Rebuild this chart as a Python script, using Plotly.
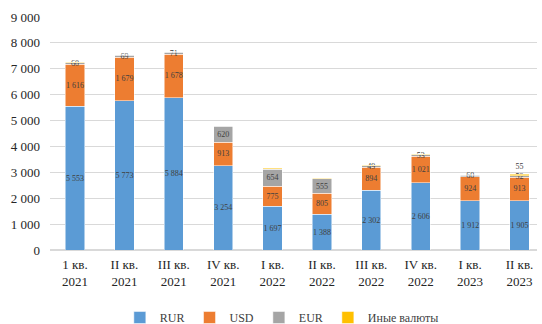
import plotly.graph_objects as go

categories = ["1 кв.<br>2021", "II кв.<br>2021", "III кв.<br>2021", "IV кв.<br>2021",
              "I кв.<br>2022", "II кв.<br>2022", "III кв.<br>2022", "IV кв.<br>2022",
              "I кв.<br>2023", "II кв.<br>2023"]
rur = [5553, 5773, 5884, 3254, 1697, 1388, 2302, 2606, 1912, 1905]
usd = [1616, 1679, 1678, 913, 775, 805, 894, 1021, 924, 913]
eur = [60, 69, 71, 620, 654, 555, 49, 53, 60, 52]
other = [25, 20, 22, 12, 30, 25, 20, 18, 15, 55]
other_labels = ["", "", "", "", "", "", "", "", "", "55"]

font_family = "Liberation Serif, Times New Roman, serif"
txt_color = "#404040"


def seg(y, name, color, **kw):
    return go.Bar(x=categories, y=y, name=name, marker_color=color,
                  marker_line=dict(color="white", width=0.5),
                  textangle=0,
                  textfont=dict(size=8, color=txt_color, family=font_family),
                  **kw)


fig = go.Figure()
fig.add_trace(seg(rur, "RUR", "#5B9BD5", texttemplate="%{y:,d}",
                  textposition="inside", insidetextanchor="middle"))
fig.add_trace(seg(usd, "USD", "#ED7D31", texttemplate="%{y:,d}",
                  textposition="inside", insidetextanchor="middle"))
fig.add_trace(seg(eur, "EUR", "#A5A5A5", texttemplate="%{y:,d}",
                  textposition="inside", insidetextanchor="middle"))
fig.add_trace(seg(other, "Иные валюты", "#FFC000", text=other_labels,
                  texttemplate="%{text}", textposition="outside", cliponaxis=False))

fig.update_layout(
    barmode="stack",
    bargap=0.61,
    width=542, height=324,
    margin=dict(l=50, r=5, t=17, b=74),
    paper_bgcolor="white", plot_bgcolor="white",
    separators=", ",
    font=dict(family=font_family, size=13, color="#262626"),
    uniformtext=dict(mode="show", minsize=8),
    legend=dict(orientation="h", x=0.52, xref="container", xanchor="center",
                y=0.02, yref="container", yanchor="middle",
                font=dict(size=12, color="#404040"), itemwidth=30,
                traceorder="normal"),
    showlegend=True,
)
fig.update_yaxes(range=[0, 9000], dtick=1000, tickformat=",d",
                 showgrid=True, gridcolor="#D9D9D9", gridwidth=1,
                 zeroline=True, zerolinecolor="#D9D9D9",
                 ticks="", ticklabelstandoff=9, automargin=False,
                 tickfont=dict(size=13, color="#262626"),
                 showline=False)
fig.update_xaxes(type="category", range=[-0.506, 9.354], automargin=False,
                 showline=True, linecolor="#D9D9D9", ticks="",
                 ticklabelstandoff=2,
                 tickfont=dict(size=13, color="#262626"))

fig.write_html("out.html", config={"displayModeBar": False},
               post_script="document.body.style.margin='0';document.body.style.padding='0';")
